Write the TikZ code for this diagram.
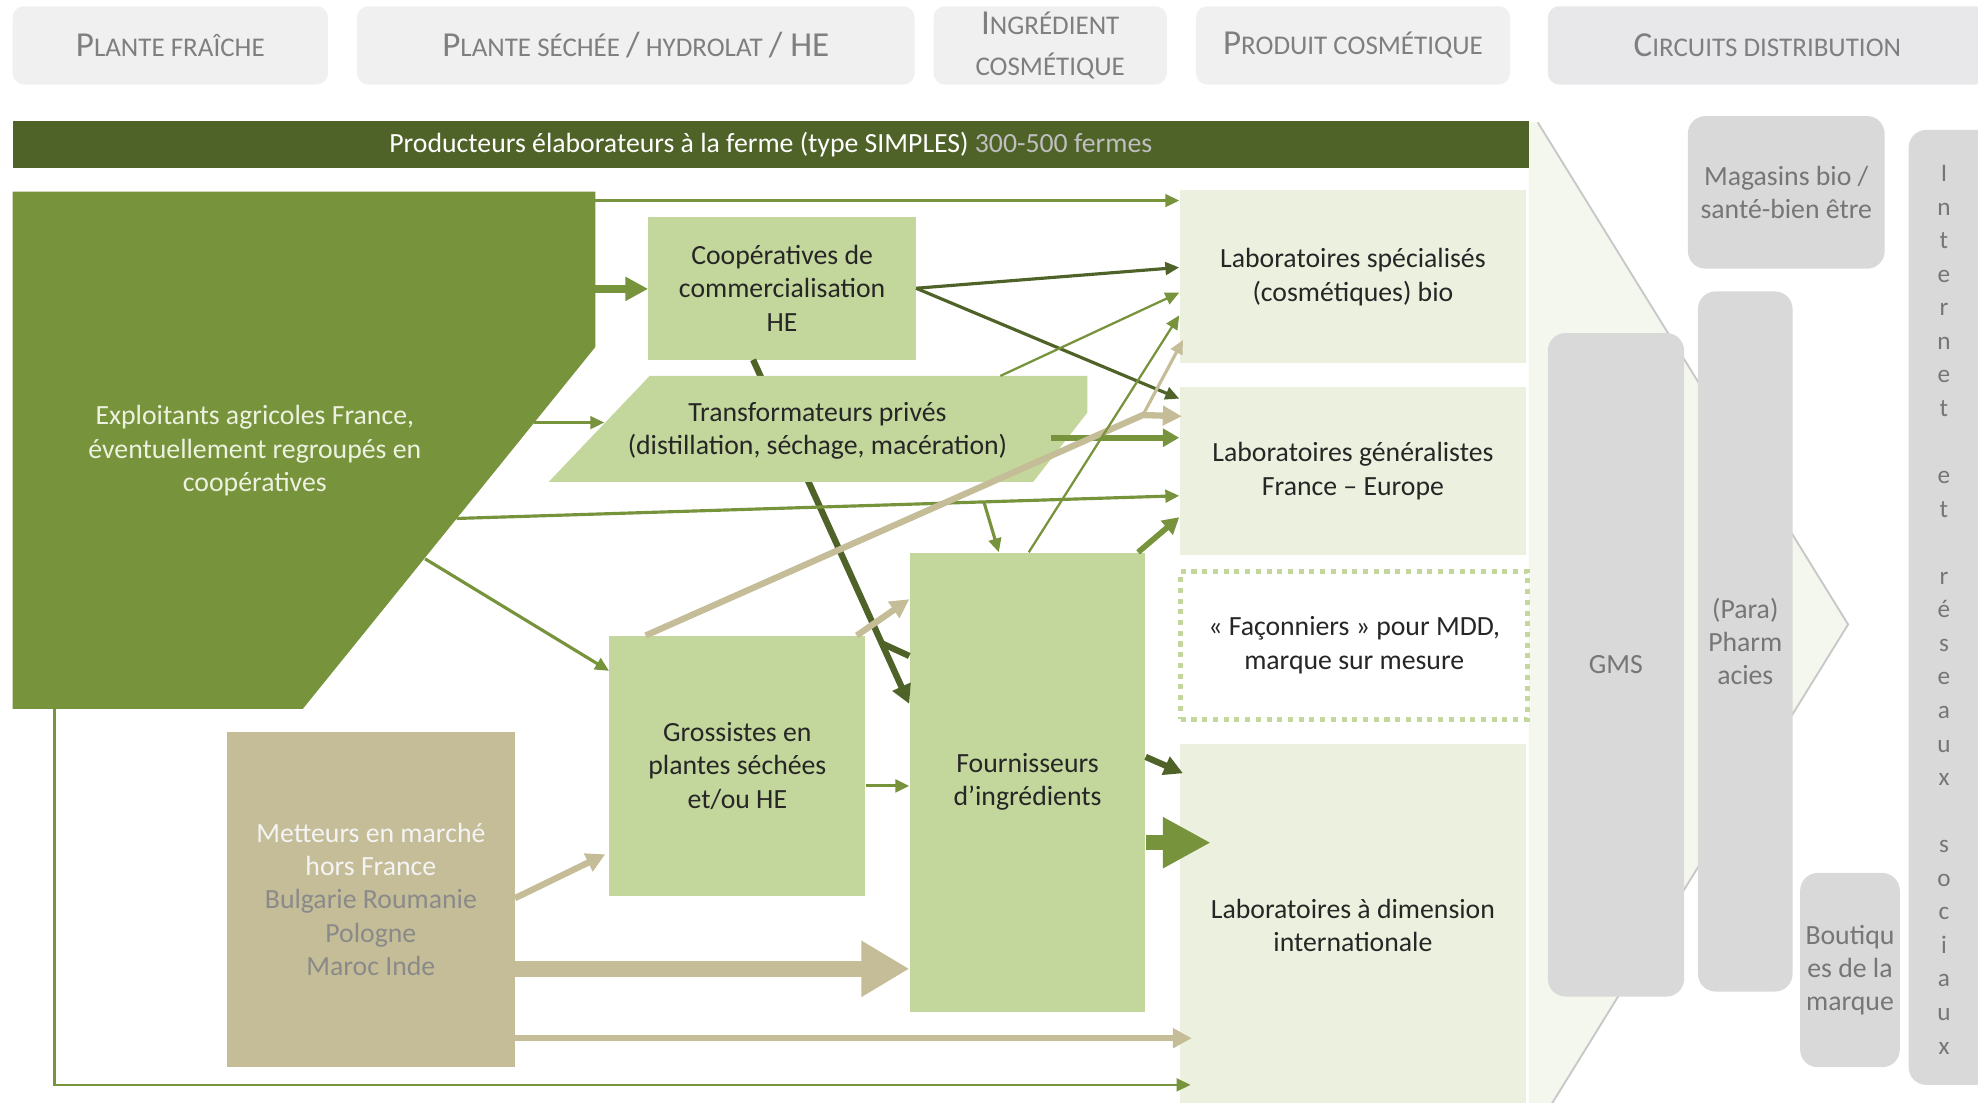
\documentclass[tikz,border=0pt]{standalone}
\usepackage{fontspec}
\setmainfont{Carlito}
\usepackage{tikz}
\usetikzlibrary{calc}
\usetikzlibrary{arrows.meta}
\tikzset{>={Triangle[length=11pt,width=10pt]}}
\definecolor{oliveDark}{HTML}{4F6228}
\definecolor{oliveMid}{HTML}{77933C}
\definecolor{oliveLight}{HTML}{C3D69B}
\definecolor{olivePale}{HTML}{EBF1DE}
\definecolor{tanBox}{HTML}{C4BD97}
\definecolor{greyBox}{HTML}{D9D9D9}
\definecolor{headGrey}{HTML}{F0F0F0}
\definecolor{headGreyB}{HTML}{E8E8EB}
\definecolor{textGrey}{HTML}{7F7F7F}
\definecolor{shopText}{HTML}{767676}
\definecolor{boxText}{HTML}{262626}
\definecolor{barGrey}{HTML}{BFBFBF}
\definecolor{exText}{HTML}{EDF2E0}
\definecolor{metLight}{HTML}{F4F4F4}
\definecolor{metGrey}{HTML}{8A8A8A}
\definecolor{chevronFill}{HTML}{F4F7EE}
\definecolor{chevronEdge}{HTML}{C8C8C8}
\newcommand{\hdbig}{\fontsize{27.8}{32}\selectfont}
\newcommand{\hdsmall}{\fontsize{21.4}{32}\selectfont}
\newcommand{\hsc}[2]{{\hdbig #1}{\hdsmall #2}}

\begin{document}
\begin{tikzpicture}[
    x = 1pt, y = -1pt,
    txt/.style = {font=\fontsize{22}{26.5}\selectfont, align=center},
    header/.style = {txt, fill=headGrey, rounded corners=9pt, inner sep=0pt,
        minimum height=62pt, text=textGrey, font=\hdsmall},
    box/.style = {txt, fill=oliveLight, inner sep=0pt, text=boxText},
    lab/.style = {box, fill=olivePale},
    shop/.style = {txt, fill=greyBox, rounded corners=14pt, inner sep=0pt,
        text=shopText},
    greenLine/.style = {draw=oliveMid, line width=2pt, ->},
    darkLine/.style = {draw=oliveDark, line width=2.5pt, ->},
    heavy/.style = {line width=5pt, -{Triangle[length=15pt,width=15pt]}},
    fatArrow/.style = {line width=13pt, -{Triangle[length=38pt,width=42pt]}}
  ]
  \useasboundingbox (0,0) rectangle (1568,874);
  \fill[white] (0,0) rectangle (1568,874);

  % en-tetes
  \node[header, minimum width=250pt] (hdFresh) at (135,36) {\hsc{P}{LANTE FRAÎCHE}};
  \node[header, minimum width=442pt] (hdDry) at (504,36)
    {\hsc{P}{LANTE SÉCHÉE }{\hdbig /}{\hdsmall\ HYDROLAT }{\hdbig / HE}};
  \node[header, minimum width=185pt] (hdIng) at (832.5,36) {\hsc{I}{NGRÉDIENT}\\COSMÉTIQUE};
  \node[header, minimum width=249pt] (hdProd) at (1072.5,36) {\hsc{P}{RODUIT COSMÉTIQUE}};
  \node[header, fill=headGreyB, minimum width=348pt] (hdCirc) at (1401,36) {\hsc{C}{IRCUITS DISTRIBUTION}};

  % fleche de fond
  \fill[chevronFill] (1212,97) -- (1219,97) -- (1465,495) -- (1219,893) -- (1212,893) -- cycle;
  \draw[chevronEdge, line width=1.5pt] (1219,97) -- (1465,495) -- (1219,893);

  % circuits
  \node[shop, minimum width=156pt, minimum height=121pt] (shopBio) at (1416,152.5) {Magasins bio /\\santé-bien être};
  \node[shop, minimum width=108pt, minimum height=526pt] (gms) at (1281,527) {GMS};
  \node[shop, minimum width=75pt, minimum height=555pt] (pharma) at (1383.5,508.5) {(Para)\\Pharm\\acies};
  \node[shop, minimum width=79pt, minimum height=154pt] (brandShop) at (1466.5,769) {Boutiqu\\es de la\\marque};
  \node[shop, minimum width=67pt, minimum height=757pt] (web) at (1546.5,481.5) {};
  \foreach \c [count=\k from 0] in {I,n,t,e,r,n,e,t,{},e,t,{},r,é,s,e,a,u,x,{},s,o,c,i,a,u,x}
    \node[font=\fontsize{20}{26.5}\selectfont, text=shopText, anchor=base, inner sep=0pt]
      (web-\k) at (1541,144+26.6*\k) {\c};

  % laboratoires
  \node[lab, minimum width=275pt, minimum height=137pt] (labSpe) at (1072.5,219.5)
    {Laboratoires spécialisés\\(cosmétiques) bio};
  \node[lab, minimum width=275pt, minimum height=133pt] (labGen) at (1072.5,373.5)
    {Laboratoires généralistes\\France – Europe};
  \node[txt, text=boxText, draw=oliveLight, line width=4pt, dash pattern=on 4pt off 4.5pt,
      minimum width=275pt, minimum height=117pt, inner sep=0pt] (facon) at (1073.5,511.5)
    {« Façonniers » pour MDD,\\marque sur mesure};
  \node[lab, minimum width=275pt, minimum height=287pt] (labInt) at (1072.5,733.5)
    {Laboratoires à dimension\\internationale};

  % producteurs
  \node[txt, fill=oliveDark, text=white, minimum width=1202pt, minimum height=37pt,
      inner sep=0pt] (farmBar) at (611,114.5)
    {Producteurs élaborateurs à la ferme (type SIMPLES) \textcolor{barGrey}{300-500 fermes}};
  \fill[oliveMid] (10,152) -- (472,152) -- (472,275) -- (240,562) -- (10,562) -- cycle;
  \node[txt, text=exText] (farmers) at (202,357.5)
    {Exploitants agricoles France,\\éventuellement regroupés en\\coopératives};
  \coordinate (ex-a) at (472,159);
  \coordinate (ex-b) at (472,229);
  \coordinate (ex-c) at (423,335);
  \coordinate (ex-d) at (362,411);
  \coordinate (ex-e) at (337,443);
  \coordinate (ex-f) at (43,562);

  % intermediaires
  \node[box, minimum width=212pt, minimum height=113pt] (coop) at (620,228.5)
    {Coopératives de\\commercialisation\\HE};
  \node[box, minimum width=203pt, minimum height=206pt] (grossist) at (584.5,607)
    {Grossistes en\\plantes séchées\\et/ou HE};
  \node[box, minimum width=187pt, minimum height=364pt] (supplier) at (814.5,620)
    {Fournisseurs\\d’ingrédients};
  \node[box, fill=tanBox, minimum width=228pt, minimum height=266pt] (market) at (294,713)
    {\textcolor{metLight}{Metteurs en marché}\\\textcolor{metLight}{hors France}\\
     \textcolor{metGrey}{Bulgarie Roumanie}\\\textcolor{metGrey}{Pologne}\\\textcolor{metGrey}{Maroc Inde}};

  % cooperatives -> fournisseurs, sous les transformateurs
  \coordinate (cf-a) at ($(coop.south)+(-23,0)$);
  \coordinate (cf-b) at ($(supplier.west)+(0,-62)$);
  \draw[oliveDark, heavy] (cf-a) -- (cf-b);
  \draw[oliveDark, line width=5pt] ($(cf-a)!0.824!(cf-b)$) -- ($(supplier.west)+(0,-100)$);

  \fill[oliveLight] (515,298) -- (862,298) -- (862,327) -- (819,382) -- (435,382) -- cycle;
  \node[txt, text=boxText] (transfo) at (648,341.5)
    {Transformateurs privés\\(distillation, séchage, macération)};
  \coordinate (tr-w) at (479,335);
  \coordinate (tr-n) at (793,298);
  \coordinate (tr-e) at (833,347);

  % flux des exploitants
  \draw[greenLine] (ex-a) -- (ex-a -| labSpe.west);
  \draw[oliveMid, line width=6pt, -{Triangle[length=18pt,width=18pt]}] (ex-b) -- (ex-b -| coop.west);
  \draw[greenLine] (ex-c) -- (tr-w);
  \draw[greenLine, line width=2.5pt] (ex-d) -- ($(labGen.west)+(0,19.5)$);
  \coordinate (br) at (780,398);
  \draw[greenLine, line width=2.5pt] (br) -- ($(supplier.north west)+(71,0)$);
  \draw[greenLine, line width=2.5pt] (ex-e) -- ($(grossist.north west)+(0,28)$);
  \draw[greenLine] (ex-f) |- ($(labInt.west)+(9,126.5)$);

  % flux des cooperatives et transformateurs
  \draw[darkLine] (coop.east) -- ($(labSpe.west)+(0,-7.5)$);
  \draw[darkLine] (coop.east) -- ($(labGen.west)+(0,-57.5)$);
  \draw[greenLine, line width=1.8pt] (tr-n) -- ($(labSpe.west)+(0,12.5)$);
  \draw[oliveMid, line width=4.5pt, -{Triangle[length=13pt,width=14pt]}] (tr-e) -- ($(labGen.west)+(0,-26.5)$);

  % flux des grossistes
  \coordinate (tan-knee) at (906,329);
  \draw[tanBox, heavy] ($(grossist.north west)+(29,0)$) -- (tan-knee) -- ($(labGen.west)+(2,-43.5)$);
  \draw[tanBox, line width=2.5pt, ->] (tan-knee) -- ($(labSpe.west)+(3,50)$);
  \draw[tanBox, heavy] ($(grossist.north east)+(-7,0)$) -- ($(supplier.west)+(0,-145)$);
  \draw[greenLine, line width=2.5pt] ($(grossist.east)+(0,16)$) -- ($(supplier.west)+(0,3)$);

  % flux des metteurs en marche
  \draw[tanBox, heavy] ($(market.east)+(0,-1)$) -- ($(grossist.south west)+(-3,-33)$);
  \draw[tanBox, fatArrow] ($(market.east)+(0,55)$) -- ($(supplier.west)+(0,148)$);
  \draw[tanBox, heavy] ($(market.east)+(0,110)$) -- ($(labInt.west)+(10,89.5)$);

  % flux des fournisseurs
  \draw[greenLine, line width=1.8pt] ($(supplier.north)+(1,0)$) -- ($(labSpe.west)+(0,30.5)$);
  \draw[oliveMid, line width=4.5pt, -{Triangle[length=13pt,width=14pt]}]
    ($(supplier.north east)+(-6,0)$) -- ($(labGen.west)+(0,36.5)$);
  \draw[oliveDark, heavy] ($(supplier.east)+(0,-20)$) -- ($(labInt.west)+(3,-120.5)$);
  \draw[oliveMid, line width=12pt, -{Triangle[length=38pt,width=38pt]}]
    ($(supplier.east)+(0,48)$) -- ($(labInt.west)+(25,-65.5)$);
\end{tikzpicture}
\end{document}
